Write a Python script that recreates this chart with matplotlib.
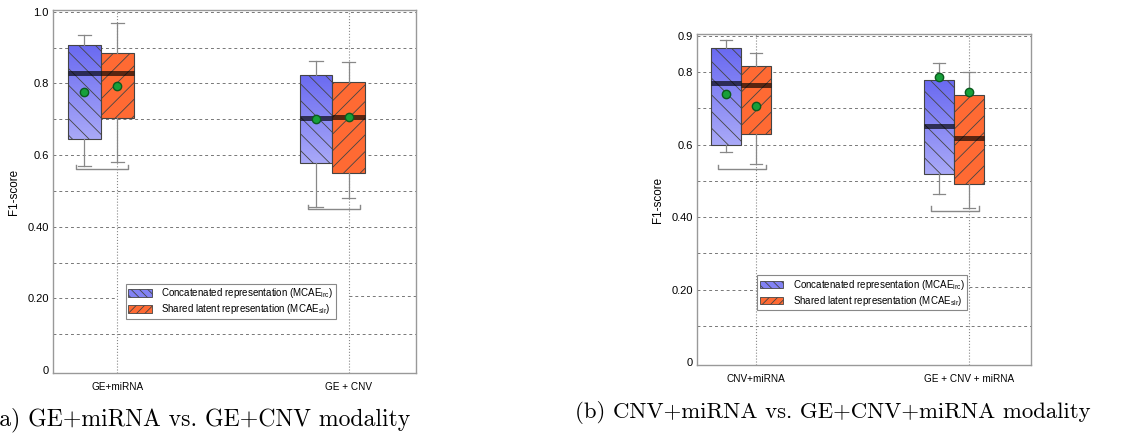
import numpy as np
import matplotlib.pyplot as plt
from matplotlib.patches import Patch
from matplotlib.colors import LinearSegmentedColormap

plt.rcParams['font.family'] = 'Liberation Sans'
plt.rcParams['mathtext.fontset'] = 'custom'
plt.rcParams['mathtext.rm'] = 'Liberation Sans'
plt.rcParams['hatch.linewidth'] = 0.6

# legend labels
series_names = [r'Concatenated representation (MCAE$_{\mathrm{lrc}}$)',
                r'Shared latent representation (MCAE$_{\mathrm{slr}}$)']

# (a) GE+miRNA vs GE+CNV  -- per group: whislo, q1, median, q3, whishi, mean
a_groups = ['GE+miRNA', 'GE + CNV']
a_lrc = [(0.571, 0.645, 0.828, 0.907, 0.934, 0.776),
         (0.456, 0.577, 0.703, 0.824, 0.862, 0.702)]
a_slr = [(0.580, 0.703, 0.828, 0.886, 0.968, 0.794),
         (0.481, 0.549, 0.705, 0.803, 0.860, 0.705)]
a_bracket = [0.561, 0.450]
a_yticks = [0, 0.2, 0.4, 0.6, 0.8, 1.0]
a_yticklabels = ['0', '0.20', '0.40', '0.6', '0.8', '1.0']

# (b) CNV+miRNA vs GE+CNV+miRNA
b_groups = ['CNV+miRNA', 'GE + CNV + miRNA']
b_lrc = [(0.579, 0.600, 0.770, 0.865, 0.888, 0.739),
         (0.464, 0.519, 0.652, 0.778, 0.824, 0.787)]
b_slr = [(0.547, 0.630, 0.763, 0.818, 0.853, 0.707),
         (0.425, 0.490, 0.619, 0.736, 0.800, 0.746)]
b_bracket = [0.533, 0.418]
b_yticks = [0, 0.2, 0.4, 0.6, 0.8, 0.9]
b_yticklabels = ['0', '0.20', '0.40', '0.6', '0.8', '0.9']

colors = ['#8282f4', '#ff6a33']
blue_grad = LinearSegmentedColormap.from_list('bg', ['#a9a9f8', '#6a6af1'])
hatches = ['\\\\', '//']
width = 0.142


def stats(rows):
    return [dict(whislo=r[0], q1=r[1], med=r[2], q3=r[3], whishi=r[4], mean=r[5])
            for r in rows]


def panel(ax, groups, lrc, slr, bracket, yticks, yticklabels, ytop, leg_xy):
    pos = [1, 2]
    xlim = (0.722, 2.29)
    # grid
    for g in range(1, int(round(ytop * 10)) + 1):
        y = g / 10
        if abs(y - 0.2) < 1e-9:
            ax.hlines(y, xlim[0], pos[0], color='#777777', lw=0.7, ls=(0, (3, 3)), zorder=0)
            ax.hlines(y + 0.006, pos[1], xlim[1], color='#777777', lw=0.7, ls=(0, (3, 3)), zorder=0)
        else:
            ax.axhline(y, color='#777777', lw=0.7, ls=(0, (3, 3)), zorder=0)
    for p in pos:
        ax.axvline(p, color='#888888', lw=0.8, ls=':', zorder=0)

    grad = np.linspace(0, 1, 100).reshape(-1, 1)
    for k, (rows, off) in enumerate([(lrc, -width), (slr, 0.0)]):
        fc = 'none' if k == 0 else colors[k]
        res = ax.bxp(stats(rows), positions=[p + off for p in pos], widths=width,
                     patch_artist=True, showmeans=True, showfliers=False,
                     capwidths=width * 0.4,
                     boxprops=dict(facecolor=fc, edgecolor='#444444',
                                   hatch=hatches[k], lw=0.8),
                     whiskerprops=dict(color='#888888', lw=0.9),
                     capprops=dict(color='#888888', lw=0.9),
                     medianprops=dict(color='black', alpha=0.65, lw=3.6, solid_capstyle='butt'),
                     meanprops=dict(marker='o', markerfacecolor='#17a03a',
                                    markeredgecolor='#0c5a1e', markersize=6),
                     manage_ticks=False)
        if k == 0:
            # blue boxes fade lighter towards the bottom
            for p, r, box in zip(pos, rows, res['boxes']):
                x0 = p + off - width / 2
                im = ax.imshow(grad, extent=[x0, x0 + width, r[1], r[3]], origin='lower',
                               cmap=blue_grad, aspect='auto', zorder=1.5)
                im.set_clip_path(box)

    # brackets under each group
    for p, y in zip(pos, bracket):
        x0, x1 = p - 0.178, p + 0.048
        ax.plot([x0, x0, x1, x1], [y + 0.012, y, y, y + 0.012],
                color='#888888', lw=1.0, zorder=3)

    ax.set_xlim(*xlim)
    ax.set_ylim(-0.008, ytop + 0.005)
    ax.set_xticks(pos)
    ax.set_xticklabels(groups, fontsize=7.2)
    ax.set_yticks(yticks)
    ax.set_yticklabels(yticklabels, fontsize=8)
    ax.tick_params(axis='y', length=0, pad=3)
    ax.tick_params(axis='x', length=0, pad=6.5)
    ax.set_ylabel('F1-score', fontsize=8.4, labelpad=5)
    for s in ax.spines.values():
        s.set_color('#999999')
        s.set_linewidth(1.0)

    handles = [Patch(facecolor=colors[0], edgecolor='#444444', hatch='\\\\\\\\', lw=0.6),
               Patch(facecolor=colors[1], edgecolor='#444444', hatch='////', lw=0.6)]
    leg = ax.legend(handles, series_names, loc='center', bbox_to_anchor=leg_xy,
                    fontsize=7, fancybox=False, framealpha=1, edgecolor='#888888',
                    handlelength=2.4, handleheight=0.8, labelspacing=0.2,
                    borderpad=0.25, handletextpad=1.0)
    leg.get_frame().set_linewidth(0.8)


fig = plt.figure(figsize=(11.47, 4.34), dpi=100)
ax1 = fig.add_axes([0.0462, 0.1406, 0.3165, 0.8364])
ax2 = fig.add_axes([0.6077, 0.159, 0.2912, 0.7627])

panel(ax1, a_groups, a_lrc, a_slr, a_bracket, a_yticks, a_yticklabels, 1.0, (0.49, 0.197))
panel(ax2, b_groups, b_lrc, b_slr, b_bracket, b_yticks, b_yticklabels, 0.9, (0.495, 0.218))

# the "(" of caption (a) falls just outside the left edge, as in the original
fig.text(-10.5 / 1147, 1 - 420 / 434, '(a) GE+miRNA vs. GE+CNV modality',
         family='cmr10', fontsize=17.1, ha='left', va='center')
fig.text(575 / 1147, 1 - 412 / 434, '(b) CNV+miRNA vs. GE+CNV+miRNA modality',
         family='cmr10', fontsize=16.4, ha='left', va='center')

fig.savefig('out.png', dpi=100)
